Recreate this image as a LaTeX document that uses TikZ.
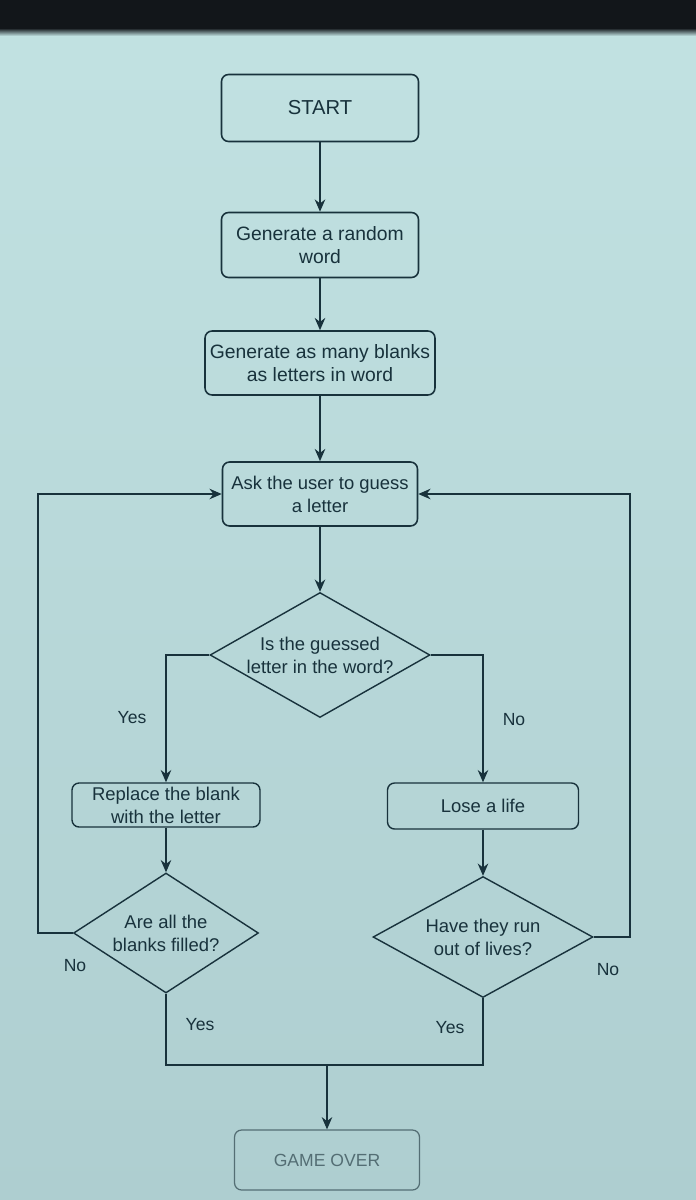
\documentclass[tikz,border=0pt]{standalone}
\usepackage{fontspec}
\setmainfont{Liberation Sans}
\usetikzlibrary{shapes.geometric, arrows.meta, calc}
\definecolor{screenbg}{RGB}{194,226,226}
\definecolor{screenlow}{RGB}{174,206,208}
\definecolor{bezel}{RGB}{18,22,26}
\definecolor{inkteal}{RGB}{24,50,60}
\definecolor{fadeteal}{RGB}{84,110,116}

\begin{document}
\begin{tikzpicture}[x=0.02cm, y=-0.02cm,
  box/.style={draw=inkteal, line width=0.9pt, rounded corners=4pt, align=center, text=inkteal, inner sep=2pt, font=\fontsize{10.5}{13}\selectfont},
  decision/.style={diamond, draw=inkteal, line width=0.8pt, align=center, text=inkteal, inner sep=0pt, font=\fontsize{10.5}{13}\selectfont},
  flow/.style={draw=inkteal, line width=0.7pt, -{Stealth[length=7pt, width=6pt]}},
  link/.style={draw=inkteal, line width=0.7pt},
  answer/.style={text=inkteal, font=\fontsize{10}{12}\selectfont}]

  % Screen background
  \useasboundingbox (0,0) rectangle (696,1200);
  \shade[top color=screenbg, bottom color=screenlow] (0,0) rectangle (696,1200);
  \fill[bezel] (0,0) rectangle (696,28);
  \shade[top color=bezel, bottom color=screenbg] (0,28) rectangle (696,36);

  % Main column
  \node[box, minimum width=3.94cm, minimum height=1.34cm, font=\fontsize{11.5}{13}\selectfont] (start) at (320,108) {START};
  \node[box, minimum width=3.94cm, minimum height=1.3cm, font=\fontsize{11}{13.5}\selectfont] (genword) at (320,245) {Generate a random\\word};
  \node[box, minimum width=4.6cm, minimum height=1.28cm, font=\fontsize{11}{13.5}\selectfont] (blanks) at (320,363) {Generate as many blanks\\as letters in word};
  \node[box, minimum width=3.9cm, minimum height=1.28cm] (ask) at (320,494) {Ask the user to guess\\a letter};
  \node[decision, minimum width=4.4cm, minimum height=2.5cm, aspect=1.76] (isin) at (320,655) {Is the guessed\\letter in the word?};

  % Two branches
  \node[box, line width=0.8pt, minimum width=3.76cm, minimum height=0.88cm] (replace) at (166,805) {Replace the blank\\with the letter};
  \node[box, line width=0.8pt, minimum width=3.82cm, minimum height=0.92cm] (lose) at (483,806) {Lose a life};
  \node[decision, minimum width=3.7cm, minimum height=2.4cm, aspect=1.54] (filled) at (166,933) {Are all the\\blanks filled?};
  \node[decision, minimum width=4.4cm, minimum height=2.42cm, aspect=1.82] (outlives) at (483,937) {Have they run\\out of lives?};

  % End
  \node[box, draw=fadeteal, text=fadeteal, line width=0.7pt, minimum width=3.7cm, minimum height=1.2cm, font=\fontsize{10}{12}\selectfont] (gameover) at (327,1160) {GAME OVER};

  % Labels
  \node[answer] (yesA) at (132,718) {Yes};
  \node[answer] (noA) at (514,720) {No};
  \node[answer] (noB) at (75,966) {No};
  \node[answer] (yesB) at (200,1025) {Yes};
  \node[answer] (yesC) at (450,1028) {Yes};
  \node[answer] (noC) at (608,970) {No};

  % Rails and merge point
  \coordinate (leftrail) at (38,933);
  \coordinate (rightrail) at (630,937);
  \coordinate (merge) at (327,1065);

  % Connectors
  \draw[flow] (start) -- (genword);
  \draw[flow] (genword) -- (blanks);
  \draw[flow] (blanks) -- (ask);
  \draw[flow] (ask) -- (isin);
  \draw[flow] (isin.west) -| (replace.north);
  \draw[flow] (isin.east) -| (lose.north);
  \draw[flow] (replace) -- (filled);
  \draw[flow] (lose) -- (outlives);
  \draw[flow] (filled.west) -- (leftrail) |- (ask.west);
  \draw[flow] (outlives.east) -- (rightrail) |- (ask.east);
  \draw[link] (filled.south) |- (merge) -| (outlives.south);
  \draw[flow] (merge) -- (gameover.north);
\end{tikzpicture}
\end{document}
